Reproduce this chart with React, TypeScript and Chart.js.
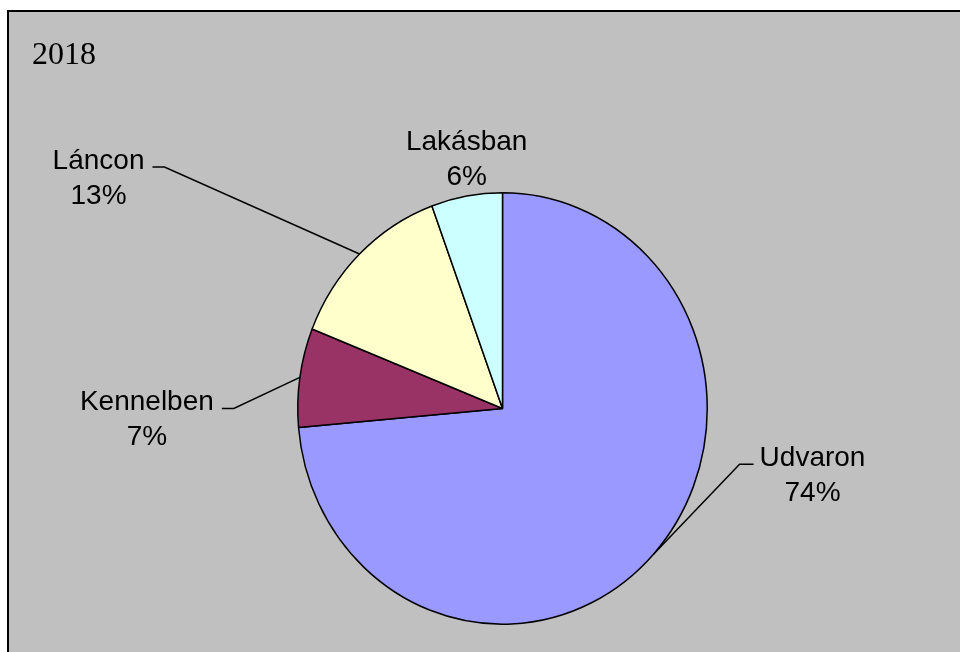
import React, { useEffect, useRef } from "react";
import { Chart, registerables } from "chart.js";

Chart.register(...registerables);

const title = "2018";
const categories = ["Udvaron", "Kennelben", "Láncon", "Lakásban"];
const shares = [73.6, 7.4, 13.4, 5.6];
const percentLabels = ["74%", "7%", "13%", "6%"];
const sliceColors = ["#9999FF", "#993366", "#FFFFCC", "#CCFFFF"];

// label placement relative to each slice's outer edge point (style, not data)
const labelOffsets = [
  [159, -88],
  [-153, 33],
  [-261, -85],
  [0, -46],
];
const showLeader = [true, true, true, false];

const Y_STRETCH = 216 / 205;
const LABEL_FONT = "28px 'Liberation Sans', Arial, sans-serif";
const LINE_GAP = 35;

const piePlugin = {
  id: "piePlugin",
  beforeDraw(chart: any) {
    const ctx = chart.ctx;
    ctx.save();
    ctx.fillStyle = "#FFFFFF";
    ctx.fillRect(0, 0, chart.width, chart.height);
    ctx.fillStyle = "#C0C0C0";
    ctx.fillRect(8, 11, chart.width + 20, chart.height + 20);
    ctx.strokeStyle = "#000000";
    ctx.lineWidth = 2;
    ctx.strokeRect(8, 11, chart.width + 20, chart.height + 20);
    ctx.fillStyle = "#000000";
    ctx.font = "32px 'Liberation Serif', 'Times New Roman', serif";
    ctx.textAlign = "left";
    ctx.textBaseline = "alphabetic";
    ctx.fillText(title, 32, 64);
    ctx.restore();
  },
  beforeDatasetsDraw(chart: any) {
    const ctx = chart.ctx;
    const arc = chart.getDatasetMeta(0).data[0];
    ctx.save();
    ctx.translate(arc.x, arc.y);
    ctx.scale(1, Y_STRETCH);
    ctx.translate(-arc.x, -arc.y);
  },
  afterDatasetsDraw(chart: any) {
    const ctx = chart.ctx;
    ctx.restore();
    const meta = chart.getDatasetMeta(0);
    ctx.save();
    ctx.font = LABEL_FONT;
    ctx.fillStyle = "#000000";
    ctx.strokeStyle = "#000000";
    ctx.lineWidth = 1.5;
    ctx.textAlign = "center";
    ctx.textBaseline = "alphabetic";
    meta.data.forEach((el: any, i: number) => {
      const mid = (el.startAngle + el.endAngle) / 2;
      const ex = el.x + Math.cos(mid) * el.outerRadius;
      const ey = el.y + Math.sin(mid) * el.outerRadius * Y_STRETCH;
      const lx = ex + labelOffsets[i][0];
      const ly = ey + labelOffsets[i][1];
      ctx.fillText(categories[i], lx, ly);
      ctx.fillText(percentLabels[i], lx, ly + LINE_GAP);
      if (showLeader[i]) {
        const w = ctx.measureText(categories[i]).width;
        const rightSide = lx > el.x;
        const ly2 = ly - 2;
        let elbowX: number, endX: number;
        if (rightSide) {
          elbowX = lx - w / 2 - 20;
          endX = lx - w / 2 - 6;
        } else {
          elbowX = lx + w / 2 + 20;
          endX = lx + w / 2 + 8;
        }
        ctx.beginPath();
        ctx.moveTo(ex, ey);
        ctx.lineTo(elbowX, ly2);
        ctx.lineTo(endX, ly2);
        ctx.stroke();
      }
    });
    ctx.restore();
  },
};

export default function App() {
  const ref = useRef<HTMLCanvasElement | null>(null);
  useEffect(() => {
    if (!ref.current) return;
    const chart = new Chart(ref.current, {
      type: "pie",
      data: {
        labels: categories,
        datasets: [
          {
            data: shares,
            backgroundColor: sliceColors,
            borderColor: "#000000",
            borderWidth: 1.5,
            clip: false as any,
          } as any,
        ],
      },
      options: {
        responsive: false,
        animation: false,
        devicePixelRatio: 1,
        layout: { padding: { left: 297, top: 203, right: 252, bottom: 38 } },
        plugins: {
          legend: { display: false },
          tooltip: { enabled: false },
          title: { display: false },
        },
        events: [],
      },
      plugins: [piePlugin],
    });
    return () => chart.destroy();
  }, []);
  return (
    <div style={{ position: "fixed", left: 0, top: 0, width: 960, height: 652 }}>
      <canvas ref={ref} width={960} height={652} style={{ display: "block" }} />
    </div>
  );
}
